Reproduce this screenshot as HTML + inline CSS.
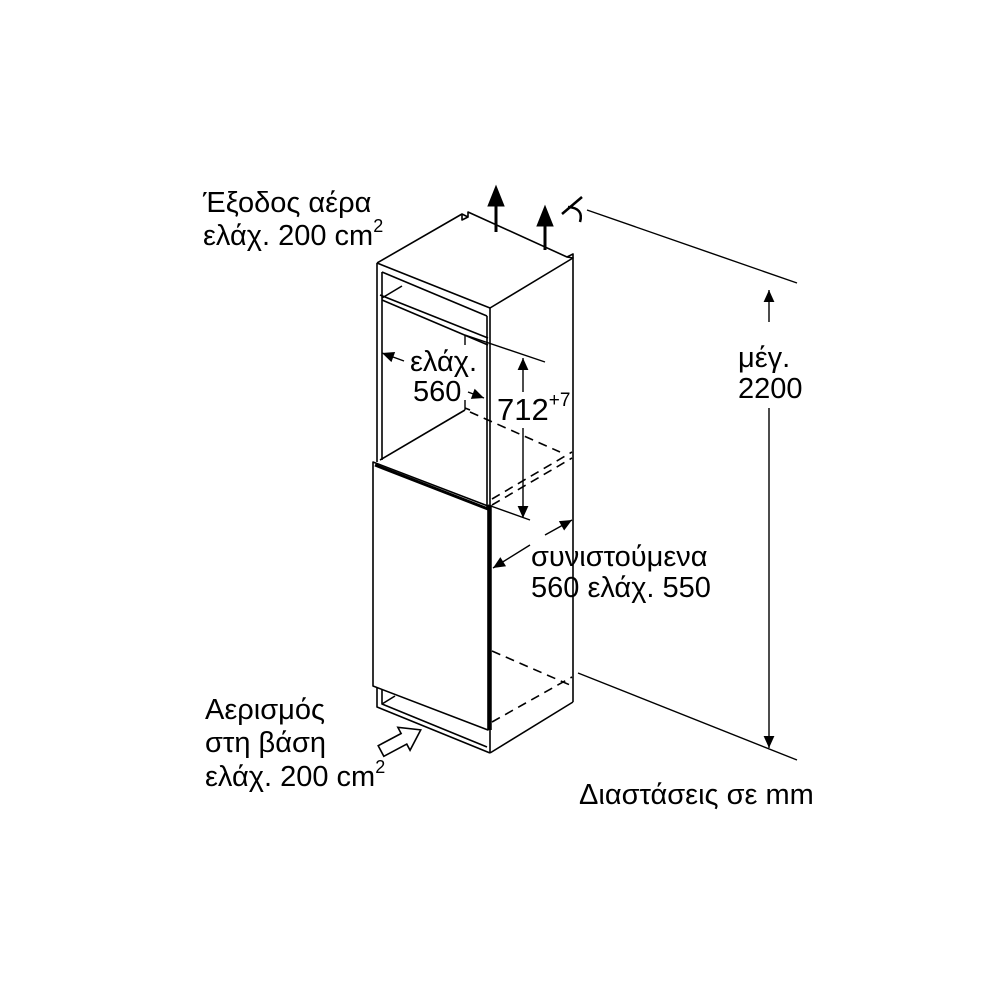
<!DOCTYPE html>
<html><head><meta charset="utf-8"><style>
html,body{margin:0;padding:0;background:#fff;}
svg{display:block}
text{font-family:"Liberation Sans","DejaVu Sans",sans-serif;fill:#000;}
</style></head><body>
<svg width="1000" height="1000" viewBox="0 0 1000 1000" xmlns="http://www.w3.org/2000/svg">
<defs>
<marker id="ahL" viewBox="0 0 10 10" refX="10" refY="5" markerWidth="16" markerHeight="12" markerUnits="userSpaceOnUse" orient="auto"><path d="M0,0.5 L10,5 L0,9.5 Z" fill="#000"/></marker>
</defs>
<g stroke="#000" stroke-width="1.6" fill="none" stroke-linejoin="round">
<path d="M377,263 L462,214 L468,217 L468,212 L567,257 L573,258 L490,308 L377,263"/>
<path d="M462,214 L462,220 L468,217"/>
<path d="M567,257 L573,254 L573,258"/>
<line x1="490" y1="308" x2="490" y2="753"/>
<line x1="573" y1="258" x2="573" y2="702"/>
<line x1="490" y1="753" x2="573" y2="702"/>
<line x1="377" y1="263" x2="377" y2="462"/>
<line x1="382" y1="272" x2="382" y2="460"/>
<line x1="382" y1="272" x2="487" y2="316"/>
<line x1="487" y1="316" x2="487" y2="507"/>
<line x1="380" y1="295" x2="488" y2="338"/>
<line x1="382" y1="300" x2="488" y2="345"/>
<line x1="382" y1="298" x2="402" y2="286"/>
<line x1="380" y1="460" x2="465" y2="410"/>
<line x1="465" y1="408" x2="470" y2="410"/>
<path d="M373,462 L488,506 L488,730 L373,686 Z"/>
<line x1="375" y1="465" x2="488" y2="509" stroke-width="3"/>
<line x1="490" y1="505" x2="490" y2="730" stroke-width="3.5"/>
<path d="M377,687 L377,707 L490,753"/>
<path d="M382,689 L382,704 L487,747"/>
<line x1="382" y1="704" x2="395" y2="696"/>
</g>
<g stroke="#000" stroke-width="1.6" fill="none" stroke-dasharray="9,6">
<line x1="470" y1="412" x2="560" y2="452"/>
<line x1="492" y1="499" x2="572" y2="452"/>
<line x1="492" y1="505" x2="572" y2="458"/>
<line x1="492" y1="651" x2="570" y2="685"/>
<line x1="492" y1="722" x2="572" y2="677"/>
</g>
<g stroke="#000" stroke-width="1.4" fill="none">
<line x1="465" y1="335" x2="545" y2="362"/>
<line x1="465" y1="335" x2="465" y2="345"/>
<line x1="465" y1="400" x2="465" y2="410"/>
<line x1="488" y1="505" x2="530" y2="520"/>
<line x1="523" y1="392" x2="523" y2="358" marker-end="url(#ahL)"/>
<line x1="523" y1="428" x2="523" y2="518" marker-end="url(#ahL)"/>
<line x1="404" y1="361" x2="382" y2="353" marker-end="url(#ahL)"/>
<line x1="468" y1="392" x2="484" y2="398" marker-end="url(#ahL)"/>
<line x1="545" y1="535" x2="572" y2="520" marker-end="url(#ahL)"/>
<line x1="530" y1="545" x2="493" y2="568" marker-end="url(#ahL)"/>
<line x1="587" y1="210" x2="797" y2="283"/>
<line x1="578" y1="673" x2="797" y2="760"/>
<line x1="769" y1="322" x2="769" y2="290" marker-end="url(#ahL)"/>
<line x1="769" y1="408" x2="769" y2="748" marker-end="url(#ahL)"/>
</g>
<g fill="#000" stroke="#000" stroke-width="3">
<line x1="496" y1="232" x2="496" y2="200"/>
<path d="M488,206 L496,186 L504,206 Z" stroke-width="1"/>
<line x1="545" y1="250" x2="545" y2="220"/>
<path d="M537,226 L545,206 L553,226 Z" stroke-width="1"/>
</g>
<g stroke="#000" stroke-width="2.5" fill="none">
<line x1="562" y1="214" x2="582" y2="197"/>
<path d="M568,207 Q584,208 580,222"/>
</g>
<path d="M0,-6 L26,-6 L26,-13 L45,0 L26,13 L26,6 L0,6 Z" fill="#fff" stroke="#000" stroke-width="1.6" transform="translate(381,751) rotate(-28)"/>
<g font-size="29">
<text x="203" y="212">Έξοδος αέρα</text>
<text x="203" y="245">ελάχ. 200 cm<tspan font-size="18" dy="-13">2</tspan></text>
<text x="410" y="371">ελάχ.</text>
<text x="413" y="401">560</text>
<text x="497" y="420" font-size="31">712<tspan font-size="19" dy="-14">+7</tspan></text>
<text x="531" y="566">συνιστούμενα</text>
<text x="531" y="597">560 ελάχ. 550</text>
<text x="738" y="367">μέγ.</text>
<text x="738" y="398">2200</text>
<text x="205" y="719">Αερισμός</text>
<text x="205" y="752">στη βάση</text>
<text x="205" y="786">ελάχ. 200 cm<tspan font-size="18" dy="-13">2</tspan></text>
<text x="579" y="804">Διαστάσεις σε mm</text>
</g>
</svg>
</body></html>
